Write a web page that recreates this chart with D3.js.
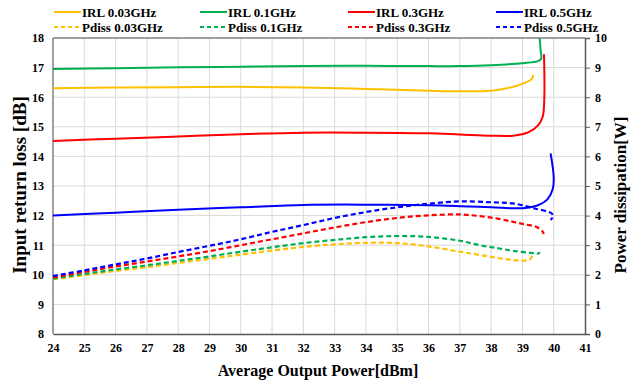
<!DOCTYPE html>
<html>
<head>
<meta charset="utf-8">
<script src="https://cdn.jsdelivr.net/npm/d3@7"></script>
<style>
  body { margin: 0; background: #fff; }
  text { font-family: "Liberation Serif", "Times New Roman", serif; font-weight: bold; }
</style>
</head>
<body>
<svg id="chart"></svg>
<script>
// x ticks / y ticks
const xTicks = d3.range(24, 42);
const irlTicks = d3.range(8, 19);
const pdTicks = d3.range(0, 11);

// IRL series [dBm, dB]
const irl003 = [[24,16.3],[26,16.33],[28,16.34],[30,16.35],[32,16.33],[34,16.28],[36,16.22],[37,16.2],[38,16.22],[38.5,16.3],[39,16.45],[39.3,16.62],[39.34,16.75]];
const irl01 = [[24,16.95],[26,16.98],[28,17.01],[30,17.03],[32,17.05],[34,17.06],[36,17.05],[37,17.05],[38,17.08],[39,17.15],[39.5,17.22],[39.6,17.3],[39.58,17.6],[39.55,18.0]];
const irl03 = [[24,14.52],[26,14.6],[28,14.67],[30,14.75],[32,14.8],[34,14.8],[36,14.78],[37,14.74],[38,14.7],[38.7,14.7],[39.2,14.82],[39.5,15.05],[39.65,15.35],[39.7,16],[39.69,17.45]];
const irl05 = [[24,12.0],[26,12.1],[28,12.2],[30,12.28],[32,12.36],[34,12.37],[36,12.35],[37,12.32],[38,12.28],[39,12.25],[39.5,12.35],[39.8,12.55],[39.97,12.9],[40,13.3],[39.9,14.1]];

// Pdiss series [dBm, W]
const pd003 = [[24,1.85],[25,1.99],[26,2.13],[27,2.26],[28,2.4],[29,2.54],[30,2.68],[31,2.82],[32,2.94],[33,3.03],[34,3.08],[35,3.07],[36,2.96],[37,2.78],[37.64,2.67],[38.2,2.57],[38.7,2.5],[39.1,2.48],[39.24,2.52],[39.35,2.73]];
const pd01 = [[24,1.87],[25,2.03],[26,2.18],[27,2.32],[28,2.47],[29,2.62],[30,2.78],[31,2.93],[32,3.07],[33,3.18],[34,3.27],[35,3.31],[36,3.28],[37,3.15],[37.64,3.0],[38.2,2.9],[38.7,2.81],[39.35,2.73],[39.5,2.72],[39.56,2.76]];
const pd03 = [[24,1.91],[25,2.1],[26,2.28],[27,2.45],[28,2.62],[29,2.8],[30,3.0],[31,3.2],[32,3.4],[33,3.6],[34,3.78],[35,3.92],[36,4.01],[37,4.04],[37.64,3.98],[38.2,3.9],[38.7,3.79],[39.1,3.7],[39.44,3.62],[39.65,3.46],[39.68,3.38]];
const pd05 = [[24,1.96],[25,2.15],[26,2.35],[27,2.55],[28,2.77],[29,2.98],[30,3.2],[31,3.45],[32,3.68],[33,3.92],[34,4.12],[35,4.28],[36,4.4],[37,4.48],[38,4.45],[38.7,4.41],[39.35,4.25],[39.93,4.08],[39.98,3.98],[39.9,3.85]];

const legendLabels = ["IRL 0.03GHz","IRL 0.1GHz","IRL 0.3GHz","IRL 0.5GHz","Pdiss 0.03GHz","Pdiss 0.1GHz","Pdiss 0.3GHz","Pdiss 0.5GHz"];
const colors = ["#FFC000","#00B050","#FF0000","#0000FF"];

const width = 632, height = 385;
const m = {left: 53, right: 585, top: 38, bottom: 334};

const svg = d3.select('#chart').attr('width', width).attr('height', height);

const x = d3.scaleLinear().domain([24, 41]).range([m.left, m.right]);
const yL = d3.scaleLinear().domain([8, 18]).range([m.bottom, m.top]);
const yR = d3.scaleLinear().domain([0, 10]).range([m.bottom, m.top]);

// grid
svg.append('g').selectAll('line').data(xTicks.slice(1, -1)).enter().append('line')
    .attr('x1', d => x(d)).attr('x2', d => x(d))
    .attr('y1', m.top).attr('y2', m.bottom)
    .attr('stroke', '#d9d9d9').attr('stroke-width', 1);
svg.append('g').selectAll('line').data(irlTicks.slice(1, -1)).enter().append('line')
    .attr('x1', m.left).attr('x2', m.right)
    .attr('y1', d => yL(d)).attr('y2', d => yL(d))
    .attr('stroke', '#d9d9d9').attr('stroke-width', 1);

// frame
svg.append('line').attr('x1', m.left).attr('x2', m.right).attr('y1', m.top).attr('y2', m.top)
    .attr('stroke', '#404040').attr('stroke-width', 1.2);
svg.append('line').attr('x1', m.left).attr('x2', m.left).attr('y1', m.top).attr('y2', m.bottom)
    .attr('stroke', '#808080').attr('stroke-width', 1.5);

// axes
const xAxis = svg.append('g').attr('transform', `translate(0,${m.bottom})`)
    .call(d3.axisBottom(x).tickValues(xTicks).tickSize(0).tickPadding(9));
xAxis.select('.domain').attr('stroke', '#595959').attr('stroke-width', 1.5);

const leftAxis = svg.append('g').attr('transform', `translate(${m.left},0)`)
    .call(d3.axisLeft(yL).tickValues(irlTicks).tickSize(0).tickPadding(9));
leftAxis.select('.domain').remove();

const rightAxis = svg.append('g').attr('transform', `translate(${m.right},0)`)
    .call(d3.axisRight(yR).tickValues(pdTicks).tickSize(5).tickPadding(5));
rightAxis.select('.domain').attr('stroke', '#595959').attr('stroke-width', 1.5);
rightAxis.selectAll('.tick line').attr('stroke', '#595959');

svg.selectAll('.tick text').attr('font-size', 12).attr('fill', '#000')
    .attr('font-family', '"Liberation Serif", serif').attr('font-weight', 'bold');

// axis titles
svg.append('text').attr('x', 318).attr('y', 376).attr('text-anchor', 'middle')
    .attr('font-size', 16).text('Average Output Power[dBm]');
svg.append('text').attr('transform', 'translate(26,185) rotate(-90)').attr('text-anchor', 'middle')
    .attr('font-size', 19).text('Input return loss [dB]');
svg.append('text').attr('transform', 'translate(626,195) rotate(-90)').attr('text-anchor', 'middle')
    .attr('font-size', 17).text('Power dissipation[W]');

// curves
const lineL = d3.line().x(d => x(d[0])).y(d => yL(d[1])).curve(d3.curveCatmullRom.alpha(0.5));
const lineR = d3.line().x(d => x(d[0])).y(d => yR(d[1])).curve(d3.curveCatmullRom.alpha(0.5));

[pd003, pd01, pd03, pd05].forEach((s, i) => {
    svg.append('path').datum(s).attr('d', lineR)
        .attr('fill', 'none').attr('stroke', colors[i]).attr('stroke-width', 2.2)
        .attr('stroke-dasharray', '5,3');
});
[irl003, irl01, irl03, irl05].forEach((s, i) => {
    svg.append('path').datum(s).attr('d', lineL)
        .attr('fill', 'none').attr('stroke', colors[i]).attr('stroke-width', 2);
});

// legend
const legX = [54, 200, 348, 496];
legendLabels.forEach((lab, i) => {
    const col = i % 4, row = Math.floor(i / 4);
    const ly = 12 + row * 15;
    const g = svg.append('g');
    g.append('line').attr('x1', legX[col]).attr('x2', legX[col] + 27)
        .attr('y1', ly).attr('y2', ly)
        .attr('stroke', colors[col]).attr('stroke-width', 2)
        .attr('stroke-dasharray', row ? '4,3' : null);
    g.append('text').attr('x', legX[col] + 28).attr('y', ly + 4.5)
        .attr('font-size', 13).text(lab);
});
</script>
</body>
</html>
